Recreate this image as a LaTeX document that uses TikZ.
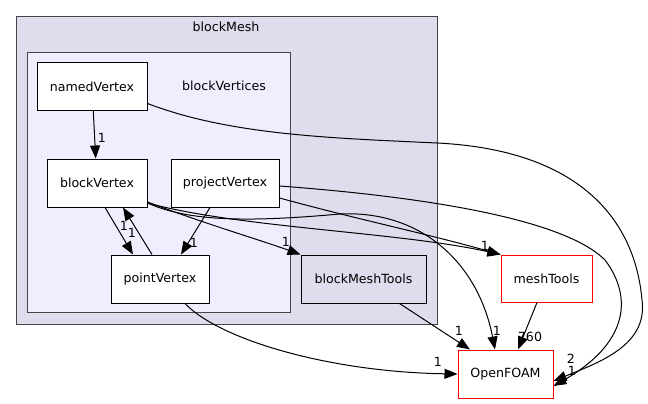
\documentclass[tikz,border=0pt]{standalone}
\usepackage{fontspec}
\setmainfont{DejaVu Sans}
\usetikzlibrary{arrows.meta}
\definecolor{outerfill}{HTML}{DDDDEE}
\definecolor{innerfill}{HTML}{EEEEFF}
\definecolor{clborder}{HTML}{444444}
\begin{document}
\begin{tikzpicture}[x=1pt,y=-1pt,
  every node/.style={font=\fontsize{12.6}{15}\selectfont, inner sep=0pt},
  dnode/.style={draw=black, fill=white, line width=1pt, minimum height=48pt},
  rnode/.style={draw=red, fill=white, line width=1pt, minimum height=48pt},
  cluster/.style={draw=clborder, line width=1pt, anchor=north west},
  edge/.style={draw=black, line width=1pt, -{Triangle[length=13pt,width=10pt]}}]
\useasboundingbox (0,0) rectangle (648,404);
% clusters
\node[cluster, fill=outerfill, minimum width=421pt, minimum height=308pt] (bm) at (16,16) {};
\node at (226,27) (bmlabel) {blockMesh};
\node[cluster, fill=innerfill, minimum width=263pt, minimum height=260pt] (bvs) at (27,52) {};
\node at (224,86) (bvslabel) {blockVertices};
% nodes
\node[dnode, minimum width=110pt, minimum height=47pt] (nv) at (92,86.5) {namedVertex};
\node[dnode, minimum width=100pt] (bv) at (97,183) {blockVertex};
\node[dnode, minimum width=108pt] (prv) at (225,183) {projectVertex};
\node[dnode, minimum width=98pt] (pv) at (160,279) {pointVertex};
\node[dnode, fill=outerfill, minimum width=125pt] (bmt) at (363.5,279) {blockMeshTools};
\node[rnode, minimum width=91pt, minimum height=47pt] (mt) at (546.5,278.5) {meshTools};
\node[rnode, minimum width=95pt] (of) at (505.5,374) {OpenFOAM};
% labels
\node (l1) at (102,138) {1};
\node (l2) at (124,226) {1};
\node (l3) at (132,233) {1};
\node (l4) at (194,243) {1};
\node (l5) at (286,242) {1};
\node (l6) at (485,246) {1};
\node (l7) at (459,331) {1};
\node (l8) at (497,331) {1};
\node (l9) at (530,337) {760};
\node (l10) at (438,362) {1};
\node (l11) at (571,359) {2};
\node (l12) at (572,371) {1};
% edges
\draw[edge] (nv) -- (bv);
\draw[edge] ([xshift=8pt]bv.south) -- ([xshift=-27pt]pv.north);
\draw[edge] ([xshift=-8pt]pv.north) -- ([xshift=26pt]bv.south);
\draw[edge] ([xshift=-15pt]prv.south) -- ([xshift=21pt]pv.north);
\draw[edge] ([yshift=-19pt]bv.east) .. controls (200,222) and (260,240) .. (bmt.north west);
\draw[edge] ([yshift=-20pt]bv.east) .. controls (240,228) and (400,232) .. (mt.north west);
\draw[edge] ([yshift=-15pt]prv.east) .. controls (360,220) and (420,232) .. (mt.north west);
\draw[edge] ([yshift=-20pt]bv.east) .. controls (190,222) and (250,222) .. (340,214)
   .. controls (420,210) and (478,262) .. ([xshift=-10.5pt]of.north);
\draw[edge] ([yshift=-3pt]prv.east) .. controls (400,195) and (560,215) .. (605,260)
   .. controls (635,300) and (625,345) .. ([yshift=-12pt]of.east);
\draw[edge] ([yshift=-17pt]nv.east) .. controls (230,135) and (330,138) .. (437,143)
   .. controls (580,150) and (635,220) .. (642,300)
   .. controls (648,345) and (600,362) .. ([yshift=-7pt]of.east);
\draw[edge] ([xshift=25pt]pv.south) .. controls (220,340) and (330,372) .. (of.west);
\draw[edge] ([xshift=36pt]bmt.south) -- ([xshift=-35.5pt]of.north);
\draw[edge] ([xshift=-9.5pt]mt.south) -- ([xshift=12.5pt]of.north);
\end{tikzpicture}
\end{document}
